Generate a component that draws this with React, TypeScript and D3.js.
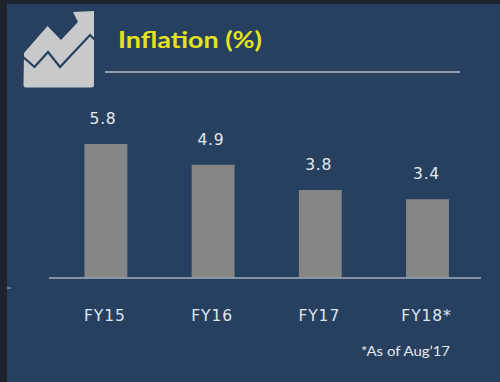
import React from "react";
import * as d3 from "d3";

const categories = ["FY15", "FY16", "FY17", "FY18*"];
const values = [5.8, 4.9, 3.8, 3.4];
const valueLabels = ["5.8", "4.9", "3.8", "3.4"];
const title = "Inflation (%)";
const footnote = "*As of Aug\u201917";

const BG = "#27405f";
const DARK = "#1d222d";
const sans = "'DejaVu Sans', Verdana, sans-serif";

export default function App() {
  const x = d3.scaleBand<string>().domain(categories).range([52.3, 481.1]).paddingInner(0.6).paddingOuter(0.3);
  const labelX = d3.scalePoint<string>().domain(categories).range([103, 426.5]);
  const y = d3.scaleLinear().domain([0, 5.8]).range([277.5, 144]);
  const bars = categories.map((c, i) => ({ c, v: values[i], l: valueLabels[i] }));
  return (
    <svg width={500} height={382} viewBox="0 0 500 382" style={{ position: "fixed", top: 0, left: 0, display: "block" }}>
      <rect width={500} height={382} fill={DARK} />
      <rect x={7} y={4} width={493} height={378} fill={BG} />
      {/* icon */}
      <path
        d="M24 53 L47.5 26 L61 40 L78 22 L73 12 L94 11 L94 85 Q94 87.5 91 87.5 L26 87.5 Q23.5 87.5 23.5 85 Z"
        fill="#c8c9cb"
      />
      <path d="M22 56 L34.5 67 L48 52 L60 67 L90 35 L96 41" fill="none" stroke={BG} strokeWidth={2.2} />
      {/* title */}
      <text x={118} y={48} fill="#e6e31e" fontFamily="Lato, sans-serif" fontWeight={700} fontSize={23} textLength={144} lengthAdjust="spacingAndGlyphs">
        {title}
      </text>
      <line x1={105} x2={460} y1={72} y2={72} stroke="#b4bccb" strokeWidth={1.4} />
      {/* bars */}
      {bars.map((d) => (
        <rect key={d.c} x={x(d.c)} y={y(d.v)} width={x.bandwidth()} height={y(0) - y(d.v)} fill="#868686" />
      ))}
      <line x1={49} x2={481} y1={278} y2={278} stroke="#a5aebd" strokeWidth={1.4} />
      <line x1={7} x2={11} y1={288} y2={288} stroke="#a5aebd" strokeWidth={1} />
      {/* value labels */}
      {bars.map((d) => (
        <text key={d.c} x={labelX(d.c)} y={y(d.v) - 20} textAnchor="middle" fill="#e4e8ee" fontFamily={sans} fontSize={15.5} letterSpacing={0.7}>
          {d.l}
        </text>
      ))}
      {/* category labels */}
      {bars.map((d) => (
        <text key={d.c} x={x(d.c)! + x.bandwidth() / 2 - 1} y={321} textAnchor="middle" fill="#dfe6ef" fontFamily={sans} fontSize={15.5} letterSpacing={0.9}>
          {d.c}
        </text>
      ))}
      <text x={361} y={356} fill="#e4e8ee" fontFamily="Lato, sans-serif" fontSize={12.5} textLength={89} lengthAdjust="spacingAndGlyphs">
        {footnote}
      </text>
    </svg>
  );
}
